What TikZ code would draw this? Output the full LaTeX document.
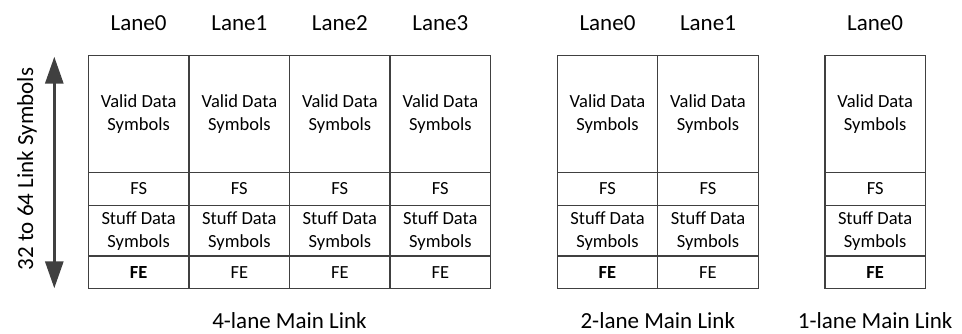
\documentclass[tikz,border=0pt]{standalone}
\usepackage{fontspec}
\setmainfont{Carlito}
\usetikzlibrary{arrows.meta}
\definecolor{linegray}{HTML}{404040}
\tikzset{
  cell/.style={draw=linegray, line width=1.5pt, rectangle, inner sep=0pt, outer sep=0pt,
    align=center, font=\fontsize{18.5}{22.6}\selectfont, text=black},
  lanelabel/.style={anchor=base, inner sep=0pt, font=\fontsize{23}{28}\selectfont, text=black},
  sizearrow/.style={draw=linegray, line width=3pt,
    {Triangle[width=18pt,length=27pt,fill=linegray]}-{Triangle[width=18pt,length=27pt,fill=linegray]}}
}
\newcommand\lanecol[5]{%
  \pgfmathsetmacro\cx{(#2+#3)/2}%
  \pgfmathsetmacro\cw{#3-#2}%
  \node[cell, minimum width=\cw pt, minimum height=116.6pt] (#1v) at (\cx,114) {Valid Data\\Symbols};
  \node[cell, minimum width=\cw pt, minimum height=33.4pt] (#1fs) at (\cx,189) {FS};
  \node[cell, minimum width=\cw pt, minimum height=50.3pt] (#1st) at (\cx,230.85) {Stuff Data\\Symbols};
  \node[cell, minimum width=\cw pt, minimum height=32.3pt] (#1fe) at (\cx,272.15) {#4};
  \node[lanelabel] (#1lab) at (\cx,30) {#5};
}
\begin{document}
\begin{tikzpicture}[x=1pt,y=-1pt]
\useasboundingbox (0,0) rectangle (962,333);
% 4-lane
\lanecol{a}{88.3}{189}{\textbf{FE}}{Lane0}
\lanecol{b}{189}{289.7}{FE}{Lane1}
\lanecol{c}{289.7}{390}{FE}{Lane2}
\lanecol{d}{390}{490.7}{FE}{Lane3}
% 2-lane
\lanecol{e}{557.3}{657.7}{\textbf{FE}}{Lane0}
\lanecol{f}{657.7}{758.3}{FE}{Lane1}
% 1-lane
\lanecol{g}{825}{925.3}{\textbf{FE}}{Lane0}
% bottom labels
\node[lanelabel] (l4) at (289.5,328.5) {4-lane Main Link};
\node[lanelabel] (l2) at (657.8,328.5) {2-lane Main Link};
\node[lanelabel] (l1) at (875.2,328.5) {1-lane Main Link};
% size arrow
\coordinate (atop) at (54.3,56.7);
\coordinate (abot) at (54.3,288.3);
\draw[sizearrow] (atop) -- (abot);
\node[lanelabel, rotate=90] (sizelab) at (33,169) {32 to 64 Link Symbols};
\end{tikzpicture}
\end{document}
